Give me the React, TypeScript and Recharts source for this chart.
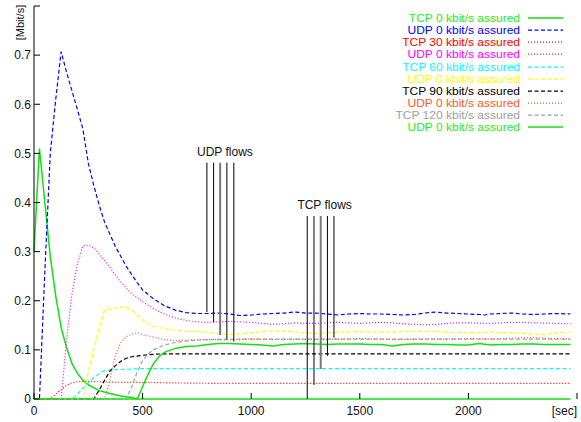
import React from 'react';
import { LineChart, Line, XAxis, YAxis, ReferenceLine, ReferenceDot, Legend } from 'recharts';

const FONT = '"Liberation Sans", Arial, Helvetica, sans-serif';

// ---- axis ticks ----
const xTicks = [0, 500, 1000, 1500, 2000, 2500];
const xTickLabels = ['0', '500', '1000', '1500', '2000', '[sec]'];
const yTicks = [0, 0.1, 0.2, 0.3, 0.4, 0.5, 0.6, 0.7, 0.8];
const yTickLabels = ['0', '0.1', '0.2', '0.3', '0.4', '0.5', '0.6', '0.7', ''];
const yUnit = '[Mbit/s]';

// ---- series names ----
const seriesNames = [
  'TCP 0 kbit/s assured',
  'UDP 0 kbit/s assured',
  'TCP 30 kbit/s assured',
  'UDP 0 kbit/s assured',
  'TCP 60 kbit/s assured',
  'UDP 0 kbit/s assured',
  'TCP 90 kbit/s assured',
  'UDP 0 kbit/s assured',
  'TCP 120 kbit/s assured',
  'UDP 0 kbit/s assured',
];

// ---- series values: [time sec, Mbit/s] ----
const tcp0 = [[0,0.30],[25,0.51],[50,0.40],[75,0.29],[100,0.21],[125,0.145],[150,0.105],[175,0.072],[200,0.052],[225,0.038],[250,0.029],[300,0.017],[350,0.011],[400,0.006],[450,0.003],[475,0],[1000,0],[1500,0],[2000,0],[2470,0]];
const udpBlue = [[0,0],[25,0],[50,0.26],[75,0.5],[100,0.61],[125,0.707],[150,0.665],[175,0.627],[200,0.589],[225,0.55],[250,0.48],[275,0.435],[300,0.395],[325,0.36],[350,0.335],[375,0.31],[400,0.29],[425,0.27],[450,0.253],[475,0.237],[500,0.222],[550,0.204],[600,0.19],[650,0.181],[700,0.176],[750,0.174],[800,0.174],[850,0.175],[900,0.173],[950,0.17],[1000,0.171],[1050,0.173],[1100,0.174],[1150,0.175],[1200,0.177],[1250,0.175],[1300,0.175],[1350,0.173],[1400,0.171],[1450,0.173],[1500,0.174],[1550,0.173],[1600,0.173],[1650,0.172],[1700,0.171],[1750,0.172],[1800,0.175],[1850,0.177],[1900,0.175],[1950,0.174],[2000,0.173],[2050,0.172],[2075,0.171],[2100,0.173],[2150,0.174],[2200,0.175],[2250,0.173],[2300,0.172],[2350,0.173],[2400,0.174],[2470,0.173]];
const tcp30 = [[0,0],[75,0],[100,0.01],[125,0.019],[150,0.028],[175,0.033],[200,0.035],[250,0.036],[300,0.035],[400,0.034],[500,0.034],[600,0.033],[800,0.032],[1000,0.032],[1200,0.032],[1500,0.032],[1800,0.032],[2000,0.032],[2470,0.032]];
const udpMagenta = [[0,0],[125,0],[150,0.12],[175,0.215],[200,0.275],[225,0.312],[250,0.313],[275,0.308],[300,0.295],[325,0.282],[350,0.268],[375,0.252],[400,0.238],[450,0.214],[500,0.198],[550,0.184],[600,0.173],[650,0.165],[700,0.16],[750,0.157],[800,0.156],[850,0.157],[900,0.158],[950,0.157],[1000,0.156],[1050,0.154],[1100,0.152],[1150,0.153],[1200,0.155],[1250,0.154],[1300,0.154],[1350,0.155],[1400,0.156],[1450,0.155],[1500,0.154],[1550,0.155],[1600,0.156],[1650,0.155],[1700,0.153],[1750,0.152],[1800,0.151],[1850,0.152],[1900,0.154],[1950,0.155],[2000,0.155],[2100,0.154],[2200,0.156],[2250,0.156],[2300,0.155],[2400,0.154],[2470,0.153]];
const tcp60 = [[0,0],[175,0],[200,0.01],[225,0.022],[250,0.033],[275,0.043],[300,0.052],[325,0.058],[350,0.059],[400,0.06],[450,0.061],[500,0.062],[700,0.062],[1000,0.062],[1500,0.062],[2000,0.062],[2470,0.062]];
const udpYellow = [[0,0],[225,0],[250,0.055],[275,0.1],[300,0.145],[325,0.181],[350,0.183],[375,0.185],[400,0.188],[425,0.187],[450,0.181],[475,0.171],[500,0.161],[525,0.153],[550,0.148],[600,0.143],[650,0.14],[700,0.138],[750,0.137],[800,0.136],[850,0.133],[900,0.131],[950,0.133],[1000,0.135],[1050,0.137],[1100,0.139],[1150,0.138],[1200,0.137],[1250,0.134],[1300,0.133],[1350,0.135],[1400,0.136],[1450,0.137],[1500,0.137],[1600,0.136],[1700,0.137],[1800,0.138],[1850,0.137],[1900,0.136],[2000,0.135],[2100,0.136],[2200,0.135],[2300,0.132],[2350,0.131],[2400,0.134],[2470,0.137]];
const tcp90 = [[0,0],[275,0],[300,0.018],[325,0.038],[350,0.057],[375,0.068],[400,0.077],[425,0.083],[450,0.086],[500,0.089],[550,0.091],[600,0.092],[800,0.092],[1000,0.092],[1500,0.092],[2000,0.092],[2470,0.092]];
const udpOrange = [[0,0],[325,0],[350,0.04],[375,0.09],[400,0.115],[425,0.127],[450,0.132],[475,0.135],[500,0.131],[550,0.126],[600,0.121],[650,0.119],[700,0.12],[800,0.121],[900,0.12],[1000,0.122],[1100,0.121],[1200,0.122],[1300,0.121],[1400,0.122],[1500,0.123],[1600,0.122],[1700,0.121],[1800,0.122],[1900,0.122],[2000,0.123],[2100,0.122],[2200,0.124],[2300,0.125],[2400,0.123],[2470,0.122]];
const tcp120 = [[0,0],[425,0],[450,0.025],[475,0.055],[500,0.078],[525,0.092],[550,0.1],[600,0.11],[650,0.115],[700,0.118],[750,0.12],[800,0.121],[1000,0.122],[1500,0.122],[2000,0.122],[2470,0.122]];
const udpGreen = [[0,0],[475,0],[500,0.025],[525,0.05],[550,0.072],[575,0.086],[600,0.095],[650,0.103],[700,0.107],[750,0.108],[800,0.111],[850,0.113],[900,0.113],[950,0.112],[1000,0.111],[1050,0.11],[1100,0.108],[1150,0.111],[1200,0.112],[1250,0.113],[1300,0.112],[1350,0.111],[1400,0.112],[1450,0.112],[1500,0.112],[1550,0.111],[1600,0.111],[1650,0.108],[1700,0.111],[1750,0.112],[1800,0.112],[1850,0.111],[1900,0.111],[1950,0.11],[2000,0.11],[2050,0.113],[2100,0.11],[2150,0.111],[2200,0.111],[2250,0.112],[2300,0.112],[2350,0.111],[2400,0.111],[2470,0.111]];

// ---- annotations (data coordinates) ----
const udpFlowTimes = [796, 827, 857, 888, 920];
const udpFlowTop = 0.481;
const udpFlowEnds = [0.177, 0.156, 0.130, 0.121, 0.117];
const tcpFlowTimes = [1258, 1289, 1320, 1351, 1381];
const tcpFlowTop = 0.3725;
const tcpFlowEnds = [0, 0.0285, 0.061, 0.088, 0.125];
const annotationTexts = ['UDP flows', 'TCP flows'];
const annotationTimes = [879, 1338];
const annotationValues = [0.503, 0.396];

// ---- styles ----
const GREEN = '#11e011';
const seriesData = [tcp0, udpBlue, tcp30, udpMagenta, tcp60, udpYellow, tcp90, udpOrange, tcp120, udpGreen];
const seriesStyle = [
  { color: GREEN, text: '#22ee22', dash: undefined, width: 1.5 },
  { color: '#0000ff', text: '#0000ff', dash: '4 2.5', width: 1.2 },
  { color: '#ff0000', text: '#ff0000', dash: '1 2', width: 1.2 },
  { color: '#ff00ff', text: '#ff00ff', dash: '1 2', width: 1.2 },
  { color: '#00ffff', text: '#00ffff', dash: '4 2.5', width: 1.2 },
  { color: '#ffff00', text: '#ffff00', dash: '4 2.5', width: 1.2 },
  { color: '#000000', text: '#000000', dash: '4 2.5', width: 1.2 },
  { color: '#ff5a28', text: '#ff5a28', dash: '1 2', width: 1.2 },
  { color: '#a0a0a0', text: '#a0a0a0', dash: '4 2.5', width: 1.2 },
  { color: GREEN, text: '#22ee22', dash: undefined, width: 1.5 },
];

const toPoints = (arr: number[][]) => arr.map(([t, v]) => ({ t, v }));

const XTick = (props: any) => {
  const { x, y, payload } = props;
  const i = xTicks.indexOf(payload.value);
  const last = i === xTicks.length - 1;
  return (
    <text x={x} y={y} dy="0.71em" textAnchor={last ? 'end' : 'middle'} fontSize={12} fill="#111" fontFamily={FONT}>
      {i >= 0 ? xTickLabels[i] : ''}
    </text>
  );
};

const YTick = (props: any) => {
  const { x, y, payload } = props;
  const i = yTicks.indexOf(payload.value);
  if (i === yTicks.length - 1) {
    const cx = x - 11.5;
    const cy = y + 16.5;
    return (
      <text x={cx} y={cy} transform={`rotate(-90 ${cx} ${cy})`} textAnchor="middle" dominantBaseline="central" fontSize={11} fill="#111" fontFamily={FONT}>
        {yUnit}
      </text>
    );
  }
  return (
    <text x={x} y={y} dy="0.355em" textAnchor="end" fontSize={12} fill="#111" fontFamily={FONT}>
      {i >= 0 ? yTickLabels[i] : ''}
    </text>
  );
};

const ROW_H = 12.08;

const LegendBox = () => (
  <div style={{ position: 'relative', width: 270, height: ROW_H * seriesNames.length, fontFamily: FONT }}>
    {seriesNames.map((name, i) => {
      const s = seriesStyle[i];
      return (
        <div key={i} style={{ position: 'absolute', left: 0, top: i * ROW_H, width: 270, height: ROW_H }}>
          <span style={{ position: 'absolute', right: 50, top: 0, display: 'inline-block', lineHeight: `${ROW_H}px`, height: ROW_H,
            fontSize: 12, color: s.text, whiteSpace: 'nowrap', transform: 'scaleY(0.89)', transformOrigin: '50% 50%' }}>
            {name}
          </span>
          <svg width={35} height={ROW_H} style={{ position: 'absolute', left: 228, top: 0, display: 'block' }}>
            <line x1={0} x2={35} y1={ROW_H / 2} y2={ROW_H / 2} stroke={s.color} strokeWidth={s.width} strokeDasharray={s.dash} />
          </svg>
        </div>
      );
    })}
  </div>
);

export default function App() {
  return (
    <div style={{ position: 'absolute', left: 0, top: 0, width: 581, height: 422, background: '#fff', fontFamily: FONT }}>
      <LineChart width={581} height={422} margin={{ top: 6, right: 4, bottom: 0, left: 0 }} style={{ fontFamily: FONT }}>
        <XAxis type="number" dataKey="t" domain={[0, 2500]} ticks={xTicks} interval={0} height={23}
          tickSize={-6} tickMargin={13.5} axisLine={false} tickLine={{ stroke: '#000' }} tick={<XTick />} />
        <XAxis xAxisId="top" orientation="top" type="number" dataKey="t" domain={[0, 2500]} ticks={xTicks} interval={0} height={0}
          tickSize={-6} axisLine={{ stroke: '#000' }} tickLine={{ stroke: '#000' }} tick={false} />
        <YAxis type="number" domain={[0, 0.8]} ticks={yTicks} interval={0} width={34}
          tickSize={-6} tickMargin={9} axisLine={{ stroke: '#000' }} tickLine={{ stroke: '#000' }} tick={<YTick />} />
        <YAxis yAxisId="right" orientation="right" type="number" domain={[0, 0.8]} ticks={yTicks} interval={0} width={0}
          tickSize={-6} axisLine={{ stroke: '#000' }} tickLine={{ stroke: '#000' }} tick={false} />
        <Legend layout="horizontal" verticalAlign="middle" align="center"
          wrapperStyle={{ position: 'absolute', left: 300, top: 12.26, width: 270, height: ROW_H * seriesNames.length }}
          content={() => <LegendBox />} />
        {seriesData.map((d, i) => (
          <Line key={i} data={toPoints(d)} dataKey="v" name={seriesNames[i]} type="linear"
            stroke={seriesStyle[i].color} strokeWidth={seriesStyle[i].width} strokeDasharray={seriesStyle[i].dash}
            dot={false} activeDot={false} isAnimationActive={false} />
        ))}
        {udpFlowTimes.map((t, i) => (
          <ReferenceLine key={'u' + i} segment={[{ x: t, y: udpFlowTop }, { x: t, y: udpFlowEnds[i] }]}
            stroke={i === 2 ? '#777' : '#000'} strokeWidth={i === 2 ? 2 : 1} />
        ))}
        {tcpFlowTimes.map((t, i) => (
          <ReferenceLine key={'t' + i} segment={[{ x: t, y: tcpFlowTop }, { x: t, y: tcpFlowEnds[i] }]}
            stroke={i === 2 ? '#777' : '#000'} strokeWidth={i === 2 ? 2 : 1} />
        ))}
        {annotationTexts.map((txt, i) => (
          <ReferenceDot key={'a' + i} x={annotationTimes[i]} y={annotationValues[i]} r={1} fill="none" stroke="none"
            label={{ value: txt, position: 'center', fontSize: 12, fill: '#111', fontFamily: FONT }} />
        ))}
      </LineChart>
    </div>
  );
}
